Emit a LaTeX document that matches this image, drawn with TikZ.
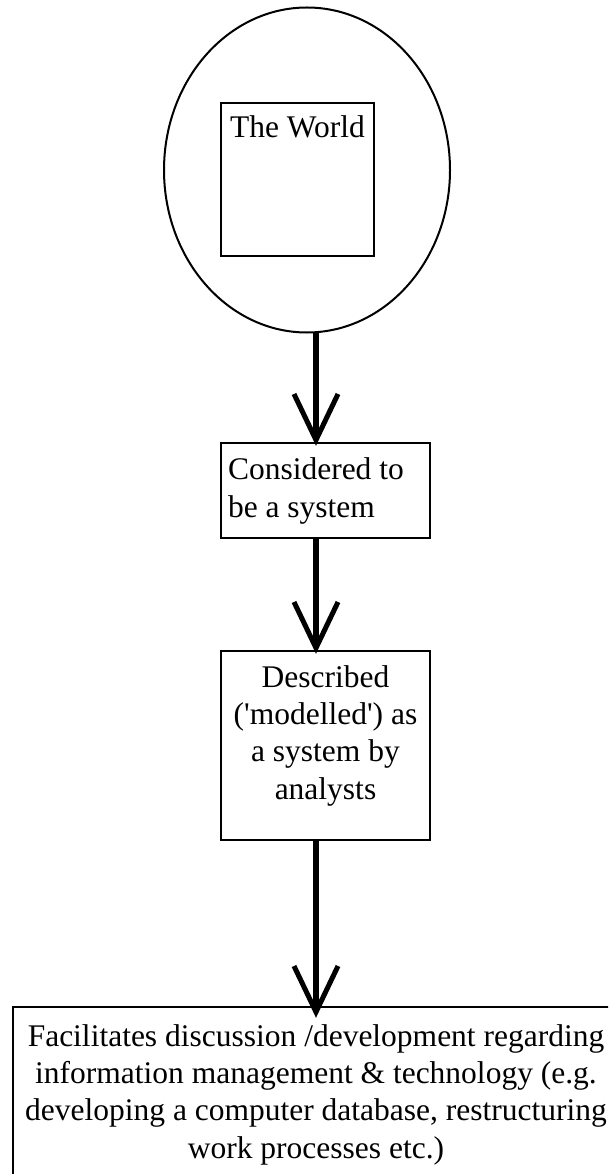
\documentclass[tikz,border=0pt]{standalone}
\usepackage{fontspec}
\setmainfont{Liberation Serif}
\usetikzlibrary{shapes.geometric,calc}
\begin{document}
\begin{tikzpicture}[x=1pt,y=-1pt,
  every node/.style={inner sep=0pt, outer sep=0pt},
  box/.style={draw, rectangle, line width=2.6pt},
  txt/.style={font=\fontsize{31.5pt}{37.3pt}\selectfont},
  shaft/.style={line width=6.5pt},
  barb/.style={line width=5pt, miter limit=10}]
\useasboundingbox (0,0) rectangle (608,1174);
\clip (0,0) rectangle (608,1174);

% the world, framed by an ellipse
\node[draw, ellipse, line width=2pt, minimum width=286pt, minimum height=325pt] (world) at (307,170) {};
\node[box, line width=2.4pt, minimum width=153pt, minimum height=153pt] (square) at (297.5,179.5) {};
\node[txt, anchor=base] (worldtext) at (297.5,138) {The World};

% second stage (multi-line text is anchored at its last baseline)
\node[box, minimum width=209pt, minimum height=95pt] (sys) at (325.5,490.5) {};
\node[txt, anchor=base west, align=left] (systext) at (228,517) {Considered to\\be a system};

% third stage
\node[box, minimum width=209pt, minimum height=189pt] (model) at (325.5,745.5) {};
\node[txt, anchor=base, align=center] (modeltext) at (325.5,799)
  {Described\\(\textquotesingle modelled\textquotesingle) as\\a system by\\analysts};

% final stage, running past the page edge
\node[box, minimum width=606pt, minimum height=190pt] (use) at (316,1102) {};
\node[txt, anchor=base, align=center] (usetext) at (316,1158)
  {Facilitates discussion /development regarding\\information management \& technology (e.g.\\developing a computer database, restructuring\\work processes etc.)};

% connectors: thick shaft plus an open V head
\draw[shaft, shorten >=5pt] (world.south -| use.north) -- (sys.north -| use.north);
\draw[barb] ($(sys.north -| use.north)+(-22,-49)$) -- ++(22,46) -- ++(22,-46);

\draw[shaft, shorten >=5pt] (sys.south -| use.north) -- (model.north -| use.north);
\draw[barb] ($(model.north -| use.north)+(-22,-49)$) -- ++(22,46) -- ++(22,-46);

\draw[shaft, shorten >=-1pt] (model.south -| use.north) -- (use.north);
\draw[barb] ($(use.north)+(-22,-41)$) -- ++(22,46) -- ++(22,-46);
\end{tikzpicture}
\end{document}
